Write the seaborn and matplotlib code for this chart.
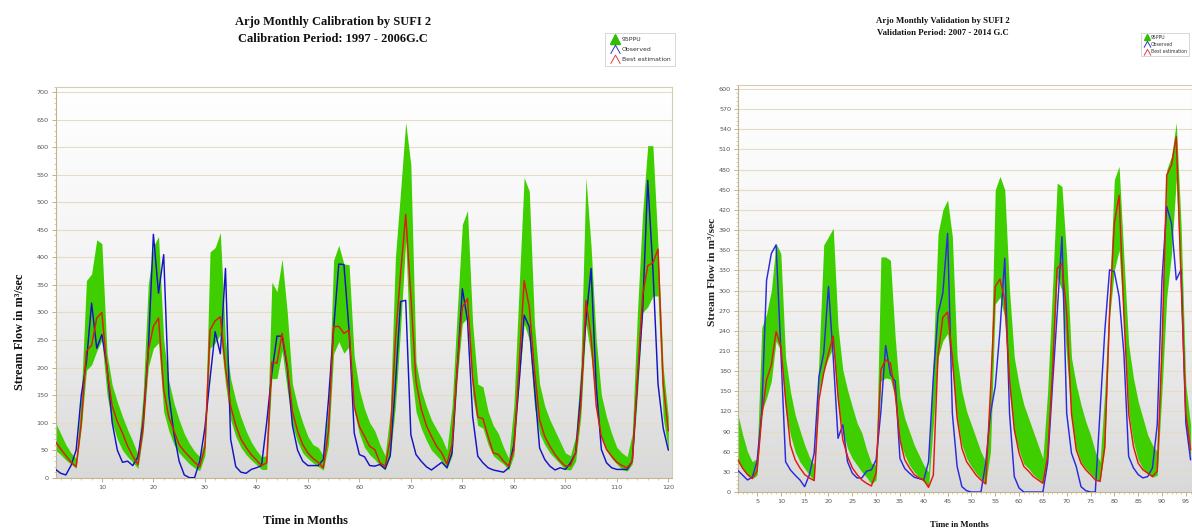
import numpy as np
import pandas as pd
import matplotlib
matplotlib.use("Agg")
import matplotlib.pyplot as plt
import seaborn as sns
from matplotlib.lines import Line2D
from matplotlib.path import Path
from matplotlib.colors import LinearSegmentedColormap
from matplotlib.ticker import MultipleLocator, AutoMinorLocator

# ---------------- Calibration (1997 - 2006), monthly stream flow, m3/s ----------------
cal_month = list(range(1, 121))
cal_upper = [100, 80, 60, 45, 35, 150, 358, 370, 432, 425, 225, 168, 138, 111, 87, 66, 42,
             150, 350, 420, 438, 250, 175, 135, 105, 80, 62, 48, 38,
             70, 410, 418, 445, 250, 180, 140, 110, 85, 65, 50, 38,
             40, 355, 338, 397, 300, 170, 130, 100, 75, 60, 55, 40,
             130, 395, 422, 388, 387, 220, 160, 125, 100, 85, 60, 40,
             120, 400, 520, 645, 568, 210, 160, 130, 105, 88, 72, 50,
             130, 300, 460, 485, 280, 170, 165, 120, 95, 80, 55, 35,
             130, 340, 545, 520, 280, 170, 130, 105, 85, 65, 45, 40,
             75, 200, 545, 420, 250, 150, 110, 80, 55, 45, 38, 80,
             300, 480, 603, 603, 420, 200, 110]
cal_lower = [50, 42, 32, 25, 17, 90, 195, 205, 230, 250, 150, 100, 70, 50, 38, 28, 17,
             80, 200, 235, 245, 120, 85, 60, 45, 35, 25, 18, 13,
             40, 235, 245, 260, 170, 105, 75, 55, 42, 32, 24, 15,
             15, 180, 180, 230, 160, 95, 65, 45, 35, 27, 20, 14,
             60, 225, 247, 226, 238, 120, 80, 55, 42, 33, 22, 14,
             40, 130, 270, 430, 200, 120, 90, 68, 50, 40, 30, 16,
             40, 180, 280, 290, 150, 95, 90, 60, 40, 32, 25, 14,
             40, 170, 280, 250, 130, 80, 60, 45, 35, 25, 15, 14,
             30, 110, 280, 220, 130, 75, 50, 35, 25, 15, 12, 25,
             150, 300, 310, 330, 330, 110, 50]
cal_best = [65, 52, 40, 28, 20, 100, 230, 240, 290, 300, 196, 130, 102, 81, 57, 39, 24,
            90, 230, 275, 290, 160, 110, 85, 60, 48, 38, 28, 20,
            55, 268, 285, 292, 200, 130, 95, 70, 55, 42, 32, 22,
            27, 210, 208, 262, 205, 120, 85, 60, 45, 35, 28, 18,
            85, 274, 275, 262, 268, 130, 93, 75, 57, 51, 27, 21,
            70, 250, 370, 478, 330, 175, 125, 95, 75, 57, 45, 25,
            60, 200, 310, 325, 180, 110, 107, 75, 45, 42, 30, 21,
            50, 200, 358, 310, 196, 105, 75, 57, 42, 30, 21, 22,
            45, 130, 322, 256, 130, 75, 51, 39, 28, 22, 18, 30,
            180, 330, 385, 390, 415, 170, 85]
cal_obs = [15, 8, 5, 22, 50, 150, 210, 317, 235, 260, 200, 100, 50, 28, 30, 22, 38,
           100, 230, 442, 335, 405, 150, 80, 30, 5, 0, 0, 30,
           90, 180, 265, 225, 380, 70, 20, 10, 8, 15, 18, 22,
           100, 190, 257, 257, 200, 95, 50, 30, 22, 22, 22, 33,
           141, 270, 388, 387, 268, 81, 42, 38, 22, 21, 24, 16,
           40, 170, 320, 322, 78, 42, 30, 20, 14, 21, 28, 18,
           45, 196, 343, 286, 111, 39, 27, 18, 14, 12, 10, 18,
           60, 170, 295, 274, 165, 54, 33, 21, 14, 18, 15, 27,
           45, 154, 286, 380, 166, 51, 27, 18, 15, 15, 15, 30,
           170, 300, 540, 380, 170, 90, 50]

# ---------------- Validation (2007 - 2014) ----------------
val_month = list(range(1, 97))
val_upper = [115, 85, 60, 45, 50, 245, 265, 300, 370, 355, 200, 150, 115, 92, 70, 52, 40,
             200, 368, 380, 393, 246, 182, 152, 127, 103, 88, 63, 43, 40,
             350, 350, 345, 230, 142, 110, 90, 70, 55, 40, 30,
             200, 385, 420, 435, 380, 200, 150, 120, 100, 80, 60, 45,
             160, 450, 470, 450, 300, 200, 160, 130, 110, 90, 70, 50,
             150, 300, 460, 455, 350, 200, 160, 130, 105, 85, 60, 45,
             150, 300, 465, 485, 350, 220, 170, 135, 110, 85, 70, 60,
             250, 480, 500, 550, 400, 160, 100]
val_lower = [45, 35, 25, 20, 25, 120, 140, 165, 225, 210, 120, 85, 60, 45, 35, 25, 18,
             150, 180, 200, 215, 130, 90, 65, 50, 40, 30, 22, 12, 18,
             165, 170, 168, 140, 75, 55, 40, 30, 22, 15, 8,
             100, 200, 225, 236, 180, 110, 70, 50, 38, 28, 20, 12,
             60, 280, 290, 260, 150, 90, 62, 42, 35, 26, 20, 14,
             55, 170, 320, 300, 200, 110, 65, 45, 35, 28, 20, 15,
             65, 260, 330, 360, 250, 120, 75, 48, 35, 28, 22, 25,
             150, 290, 355, 465, 300, 100, 50]
val_best = [48, 35, 26, 20, 31, 112, 167, 189, 239, 217, 137, 70, 48, 36, 26, 21, 17,
            137, 177, 207, 232, 142, 78, 53, 36, 26, 18, 13, 9, 28,
            182, 197, 192, 147, 78, 48, 36, 26, 21, 18, 7,
            25, 205, 260, 268, 200, 110, 65, 45, 35, 25, 18, 12,
            150, 306, 317, 286, 167, 93, 58, 38, 31, 23, 18, 13,
            53, 177, 333, 340, 266, 117, 63, 43, 33, 26, 18, 16,
            68, 266, 400, 442, 266, 117, 68, 43, 33, 28, 23, 31,
            217, 472, 487, 529, 316, 117, 63]
val_obs = [32, 25, 18, 22, 45, 120, 315, 355, 368, 210, 45, 33, 25, 18, 8, 26, 58,
           172, 207, 306, 200, 80, 100, 45, 28, 21, 21, 31, 33, 48,
           120, 218, 175, 165, 50, 35, 28, 22, 20, 18, 45,
           170, 266, 296, 385, 117, 38, 8, 2, 0, 0, 0, 43,
           117, 157, 241, 348, 117, 23, 6, 0, 0, 0, 0, 0,
           43, 157, 266, 380, 117, 58, 38, 8, 2, 0, 0, 120,
           240, 331, 328, 291, 207, 53, 36, 26, 21, 23, 36, 100,
           316, 425, 400, 316, 331, 103, 48]

legend_labels = ["95PPU", "Observed", "Best estimation"]

GREEN = "#3fcf00"
RED = "#e01a10"

sns.set_theme(style="white")
plt.rcParams["font.family"] = ["DejaVu Sans"]

fig = plt.figure(figsize=(11.92, 5.31), dpi=100)
ax_cal = fig.add_axes([0.0466, 0.1004, 0.5171, 0.7363])
ax_val = fig.add_axes([0.6191, 0.0734, 0.3809, 0.7665])

bg_cmap = LinearSegmentedColormap.from_list("bg", ["#d9d9d9", "#f3f3f3", "#ffffff"])


def draw_panel(ax, df, xlim, ylim, xstep, ystep, blue):
    grad = np.linspace(0, 1, 256).reshape(-1, 1)
    ax.imshow(grad, extent=[0, 1, 0, 1], transform=ax.transAxes, cmap=bg_cmap,
              aspect="auto", origin="lower", zorder=0)
    ax.fill_between(df["Month"], df["Lower"], df["Upper"], color=GREEN,
                    linewidth=0, zorder=2)
    sns.lineplot(data=df, x="Month", y="Observed", ax=ax, color=blue,
                 linewidth=1.05, zorder=3)
    sns.lineplot(data=df, x="Month", y="Best", ax=ax, color=RED,
                 linewidth=1.05, zorder=4)
    ax.set_xlim(*xlim)
    ax.set_ylim(*ylim)
    ax.xaxis.set_major_locator(MultipleLocator(xstep))
    ax.yaxis.set_major_locator(MultipleLocator(ystep))
    ax.xaxis.set_minor_locator(AutoMinorLocator(5))
    ax.yaxis.set_minor_locator(AutoMinorLocator(5))
    ax.yaxis.grid(True, color="#e6dcc3", linewidth=0.8)
    ax.set_axisbelow(True)
    for s in ax.spines.values():
        s.set_color("#d6ccb0")
        s.set_linewidth(0.8)
    ax.spines["left"].set_color("#c2b48c")
    ax.spines["bottom"].set_color("#c2b48c")
    ax.tick_params(axis="both", which="major", bottom=True, left=True, length=3,
                   width=0.6, color="#b8a678", labelsize=4.6, labelcolor="#555555",
                   pad=2)
    ax.tick_params(axis="both", which="minor", bottom=True, left=True, length=1.6,
                   width=0.5, color="#c8b88c")
    ax.set_xlabel("")
    ax.set_ylabel("")


cal_df = pd.DataFrame({"Month": cal_month, "Lower": cal_lower, "Upper": cal_upper,
                       "Observed": cal_obs, "Best": cal_best})
val_df = pd.DataFrame({"Month": val_month, "Lower": val_lower, "Upper": val_upper,
                       "Observed": val_obs, "Best": val_best})

draw_panel(ax_cal, cal_df, (1, 120.7), (0, 710), 10, 50, "#1414c4")
draw_panel(ax_val, val_df, (1, 96.3), (0, 606), 5, 30, "#2a2ae0")

serif = ["Liberation Serif", "DejaVu Serif"]

# titles
fig.text(0.279, 0.958, "Arjo Monthly Calibration by SUFI 2", ha="center", va="center",
         family=serif, weight="bold", size=9, color="#111111")
fig.text(0.279, 0.926, "Calibration Period: 1997 - 2006G.C", ha="center", va="center",
         family=serif, weight="bold", size=9, color="#111111")
fig.text(0.791, 0.960, "Arjo Monthly Validation by SUFI 2", ha="center", va="center",
         family=serif, weight="bold", size=6.3, color="#111111")
fig.text(0.791, 0.938, "Validation Period: 2007 - 2014 G.C", ha="center", va="center",
         family=serif, weight="bold", size=6.3, color="#111111")

# axis labels
fig.text(0.256, 0.019, "Time in Months", ha="center", va="center",
         family=serif, weight="bold", size=9, color="#111111")
fig.text(0.805, 0.011, "Time in Months", ha="center", va="center",
         family=serif, weight="bold", size=6.2, color="#111111")
fig.text(0.0168, 0.375, "Stream Flow in m³/sec", ha="center", va="center",
         rotation=90, family=serif, weight="bold", size=8.8, color="#111111")
fig.text(0.598, 0.488, "Stream Flow in m³/sec", ha="center", va="center",
         rotation=90, family=serif, weight="bold", size=8.2, color="#222222")

# legends
caret = Path([(-1.0, -0.9), (0.0, 0.9), (1.0, -0.9)],
             [Path.MOVETO, Path.LINETO, Path.LINETO])


def legend_handles(ms, blue):
    return [
        Line2D([], [], ls="none", marker="^", markersize=ms, color="#2fbf00"),
        Line2D([], [], ls="none", marker=caret, markersize=ms, markerfacecolor="none",
               markeredgecolor=blue, markeredgewidth=0.7),
        Line2D([], [], ls="none", marker=caret, markersize=ms, markerfacecolor="none",
               markeredgecolor="#e04040", markeredgewidth=0.7),
    ]


legend_specs = [
    # anchor, font size, marker size, label spacing, border pad, handle length
    ((0.5076, 0.938), 4.4, 7.0, 0.75, 0.7, 1.7),
    ((0.9575, 0.938), 3.3, 5.0, 0.45, 0.45, 1.4),
]
for anchor, fs, ms, lsp, bpad, hlen in legend_specs:
    leg = fig.legend(legend_handles(ms, "#3030d0"), legend_labels, loc="upper left",
                     bbox_to_anchor=anchor, fontsize=fs, frameon=True,
                     fancybox=False, borderpad=bpad, handlelength=hlen,
                     handletextpad=0.3, labelspacing=lsp, borderaxespad=0)
    leg.get_frame().set_edgecolor("#c4c4c4")
    leg.get_frame().set_linewidth(0.6)
    for t in leg.get_texts():
        t.set_color("#333333")

fig.savefig("out.png", dpi=100, facecolor="white")
